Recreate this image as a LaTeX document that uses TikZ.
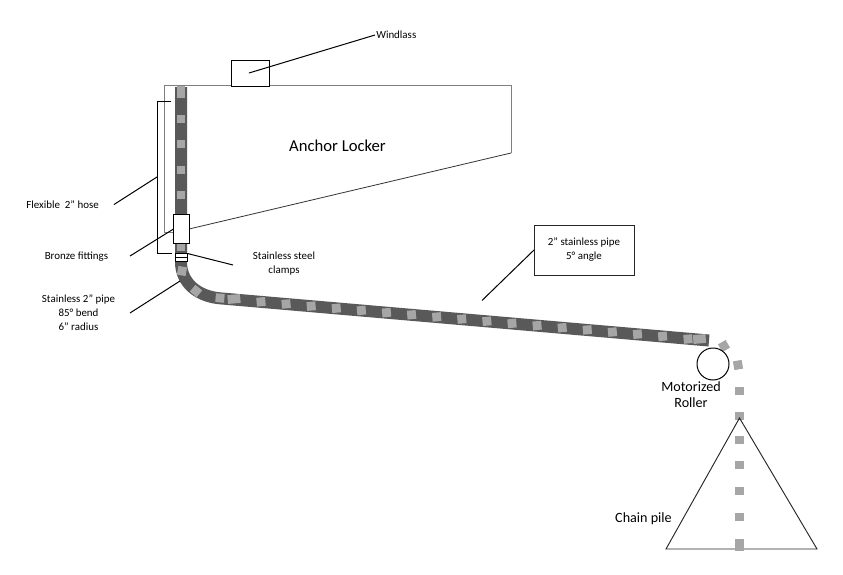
\documentclass[tikz,border=0pt]{standalone}
\usepackage{fontspec}
\setmainfont{Carlito}
\definecolor{pipecol}{HTML}{595959}
\definecolor{linkcol}{HTML}{A6A6A6}
\definecolor{wallcol}{HTML}{7F7F7F}
\tikzset{
 x=0.75pt,y=-0.75pt,
 pipe/.style={draw=pipecol,line width=9pt},
 link/.style={fill=linkcol,draw=none,minimum width=6.6pt,minimum height=6.6pt,inner sep=0pt,outer sep=0pt,rectangle},
 widelink/.style={link,minimum width=9.5pt},
 wall/.style={draw=wallcol,line width=0.7pt},
 leader/.style={draw=black,line width=0.75pt},
 box/.style={draw=black,fill=white,line width=0.75pt,inner sep=0pt,outer sep=0pt,rectangle},
 small/.style={font=\fontsize{8.2pt}{10.5pt}\selectfont,align=center,inner sep=0pt,text=black},
 big/.style={font=\fontsize{12.5pt}{13pt}\selectfont,align=center,inner sep=0pt,text=black},
 mid/.style={font=\fontsize{10.6pt}{12pt}\selectfont,align=center,inner sep=0pt,text=black},
}
\begin{document}
\begin{tikzpicture}
\useasboundingbox (0,0) rectangle (843,575);
% locker
\coordinate (lk1) at (164,232);
\coordinate (lk2) at (164,85);
\coordinate (lk3) at (511,85);
\coordinate (lk4) at (511,153);
\coordinate (lk5) at (187,229.5);
\draw[wall] (lk1) -- (lk2) -- (lk3) -- (lk4);
\draw[black!80,line width=0.6pt] (lk4) -- (lk5);
\draw[wall] (lk1) -- (173,232);
% hose + pipe
\coordinate (p0) at (181,87);
\coordinate (p1) at (181,262);
\coordinate (p2) at (222,298.5);
\coordinate (p3) at (709,340.5);
\draw[pipe,line cap=butt] (p0) -- (p1) .. controls (181,283) and (198,297) .. (p2) -- (p3);
% links on hose
\foreach \y/\n in {93/a,119/b,144/c,170/d,195/e,247/f}
  \node[link] (h\n) at (181,\y) {};
\node[link,minimum height=9pt] (htop) at (181,91.5) {};
% bend
\node[link,rotate=-10] (b1) at (182,271) {};
\node[link,rotate=-40] (b2) at (196,291) {};
\node[link,rotate=-5] (b3) at (220,298) {};
\node[widelink,rotate=5] (s0) at (234,299) {};
\foreach \i in {0,...,16}
  \node[link,rotate=5] (s\i a) at ({261+\i*25.1},{301.8+\i*2.16}) {};
\node[link,rotate=5] (s18) at (688,339) {};
\node[widelink,rotate=5] (s19) at (699.5,339) {};
% free chain
\node[link,rotate=-60] (c1) at (724,346) {};
\node[link,rotate=-80] (c2) at (738,365) {};
\node[link] (c3) at (739.5,391) {};
\node[link] (c4) at (739.5,416) {};
% triangle
\node[coordinate] (t1) at (739.5,418) {};
\node[coordinate] (t2) at (817,549) {};
\node[coordinate] (t3) at (666,549) {};
\draw[black!85,line width=0.7pt] (t1) -- (t2) -- (t3) -- cycle;
\foreach \y/\n in {440/a,465/b,491/c,517/d}
  \node[link] (k\n) at (739.5,\y) {};
\node[link,minimum height=9pt] (ke) at (739.5,544.5) {};
% boxes
\node[box,minimum width=28.5pt,minimum height=19.5pt] (wind) at (250,73) {};
\node[box,minimum width=12pt,minimum height=21.75pt] (fit) at (181.5,228.5) {};
\node[box,minimum width=9pt,minimum height=6pt] (clamp) at (181.5,257) {};
\draw[leader] (clamp.west) -- (clamp.east);
\node[box,circle,minimum size=24pt] (roll) at (713,364) {};
\node[draw=black!85,line width=0.7pt,fill=white,inner sep=0pt,outer sep=0pt,minimum width=75pt,minimum height=37.5pt,small,rectangle] (pbox) at (584,250) {2" stainless pipe\\5° angle};
% bracket
\coordinate (br1) at (171,101);
\coordinate (br2) at (157,101);
\coordinate (br3) at (157,253);
\coordinate (br4) at (172,253);
\draw[leader] (br1) -- (br2) -- (br3) -- (br4);
% labels
\node[big] (lAL) at (337.5,146) {Anchor Locker};
\node[small,anchor=west] (lW) at (376,35) {Windlass};
\node[small,anchor=west] (lF) at (26,204.5) {Flexible\ \ 2" hose};
\node[small,anchor=west] (lB) at (44.5,256.5) {Bronze fittings};
\node[small] (lC) at (284,264) {Stainless steel\\clamps};
\node[small] (lS) at (78.5,313) {Stainless 2" pipe\\85° bend\\6" radius};
\node[mid] (lM) at (691,395) {Motorized\\Roller};
\node[mid] (lP) at (643.5,519) {Chain pile};
% leaders
\coordinate (wl) at (249,73);
\coordinate (wr) at (375,35);
\draw[leader] (wl) -- (wr);
\coordinate (fl) at (114,204.5);
\coordinate (fr) at (157,177);
\draw[leader] (fl) -- (fr);
\coordinate (bl) at (130,256);
\coordinate (br) at (173.5,229);
\draw[leader] (bl) -- (br);
\coordinate (cl) at (187.5,253.5);
\coordinate (cr) at (233,265);
\draw[leader] (cl) -- (cr);
\coordinate (sl) at (130,313);
\coordinate (sr) at (180,281);
\draw[leader] (sl) -- (sr);
\coordinate (pl) at (482,300.5);
\draw[leader] (pl) -- (pbox.west);
\end{tikzpicture}
\end{document}
